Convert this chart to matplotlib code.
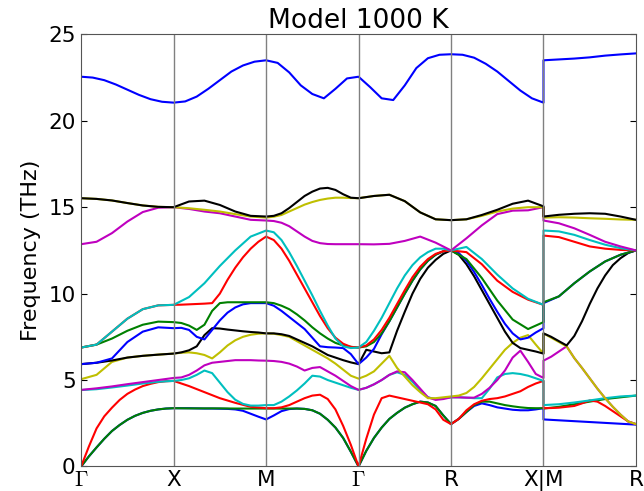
import numpy as np
import matplotlib
matplotlib.use('Agg')
import matplotlib.pyplot as plt

# Puntos de alta simetría del camino
labels = [r'$\Gamma$', 'X', 'M', r'$\Gamma$', 'R', 'X|M', 'R']

# Frecuencias (THz): una fila por banda,
# muestras equiespaciadas dentro de cada tramo (7, 9 o 13 según la curvatura)
gamma_x = [
    [0, 0.58, 1.1, 1.6, 2.05, 2.4, 2.7, 2.93, 3.1, 3.22, 3.3, 3.35, 3.37],
    [0, 0.58, 1.1, 1.6, 2.05, 2.4, 2.7, 2.93, 3.1, 3.22, 3.3, 3.35, 3.37],
    [0, 1.15, 2.2, 2.9, 3.4, 3.85, 4.2, 4.45, 4.65, 4.78, 4.88, 4.93, 4.95],
    [4.42, 4.47, 4.57, 4.68, 4.8, 4.9, 4.95],
    [4.43, 4.52, 4.63, 4.76, 4.88, 5.0, 5.12],
    [5.05, 5.3, 6.05, 6.3, 6.4, 6.47, 6.53],
    [5.92, 6.0, 6.13, 6.3, 6.4, 6.47, 6.53],
    [5.92, 6.0, 6.25, 7.2, 7.8, 8.05, 8.0],
    [6.88, 7.05, 7.4, 7.85, 8.2, 8.38, 8.35],
    [6.88, 7.05, 7.8, 8.55, 9.1, 9.32, 9.35],
    [6.88, 7.05, 7.8, 8.55, 9.1, 9.32, 9.35],
    [12.86, 13.0, 13.5, 14.17, 14.72, 14.97, 15.0],
    [15.52, 15.48, 15.39, 15.24, 15.1, 15.02, 15.0],
    [15.52, 15.48, 15.39, 15.24, 15.1, 15.02, 15.0],
    [22.55, 22.5, 22.35, 22.1, 21.8, 21.5, 21.25, 21.1, 21.05],
]
x_m = [
    [3.37, 3.37, 3.37, 3.36, 3.35, 3.35, 3.34, 3.33, 3.3, 3.22, 3.05, 2.88, 2.72],
    [3.37, 3.36, 3.36, 3.36, 3.35, 3.35, 3.35],
    [4.95, 4.65, 4.3, 3.95, 3.68, 3.45, 3.37],
    [4.95, 5.0, 5.1, 5.3, 5.55, 5.4, 4.85, 4.3, 3.86, 3.62, 3.52, 3.52, 3.55],
    [5.12, 5.15, 5.3, 5.55, 5.85, 6.0, 6.05, 6.1, 6.15, 6.15, 6.15, 6.13, 6.12],
    [6.53, 6.58, 6.6, 6.55, 6.45, 6.25, 6.6, 7.0, 7.3, 7.5, 7.62, 7.68, 7.7],
    [6.53, 6.6, 6.72, 6.95, 7.6, 8.0, 7.98, 7.92, 7.87, 7.82, 7.78, 7.75, 7.7],
    [8.0, 8.02, 7.9, 7.5, 7.35, 7.9, 8.45, 8.9, 9.2, 9.38, 9.45, 9.45, 9.45],
    [8.35, 8.3, 8.15, 7.9, 8.2, 9.0, 9.45, 9.5, 9.5, 9.5, 9.5, 9.5, 9.5],
    [9.35, 9.36, 9.38, 9.4, 9.42, 9.45, 10.0, 10.8, 11.5, 12.1, 12.6, 13.0, 13.3],
    [9.35, 9.8, 10.6, 11.6, 12.5, 13.3, 13.65],
    [15.0, 14.9, 14.75, 14.65, 14.46, 14.27, 14.23],
    [15.0, 14.94, 14.85, 14.75, 14.6, 14.46, 14.4],
    [15.0, 15.33, 15.38, 15.13, 14.75, 14.5, 14.46],
    [21.05, 21.12, 21.4, 21.85, 22.35, 22.85, 23.2, 23.42, 23.5],
]
m_gamma = [
    [2.72, 2.95, 3.2, 3.32, 3.35, 3.33, 3.25, 3.05, 2.7, 2.25, 1.65, 0.85, 0],
    [3.35, 3.35, 3.35, 3.35, 3.35, 3.33, 3.25, 3.05, 2.7, 2.25, 1.65, 0.85, 0],
    [3.37, 3.37, 3.42, 3.55, 3.75, 3.95, 4.1, 4.15, 3.9, 3.3, 2.35, 1.25, 0],
    [3.55, 3.55, 3.75, 4.05, 4.4, 4.8, 5.25, 5.2, 5.0, 4.85, 4.7, 4.55, 4.43],
    [6.12, 6.1, 6.05, 5.95, 5.78, 5.55, 5.7, 5.75, 5.5, 5.25, 4.95, 4.65, 4.43],
    [7.7, 7.68, 7.6, 7.5, 7.25, 7.0, 6.75, 6.5, 6.25, 5.95, 5.6, 5.25, 5.08],
    [7.7, 7.7, 7.65, 7.55, 7.35, 7.15, 6.95, 6.7, 6.45, 6.3, 6.15, 6.02, 5.92],
    [9.45, 9.3, 9.0, 8.65, 8.3, 7.95, 7.45, 6.95, 6.9, 6.88, 6.85, 6.5, 5.92],
    [9.5, 9.45, 9.3, 9.1, 8.8, 8.45, 8.05, 7.7, 7.4, 7.15, 7.0, 6.92, 6.88],
    [13.3, 13.1, 12.6, 11.9, 11.1, 10.3, 9.5, 8.7, 8.0, 7.45, 7.1, 6.92, 6.88],
    [13.65, 13.55, 13.1, 12.4, 11.6, 10.75, 9.9, 9.0, 8.15, 7.4, 6.95, 6.85, 6.88],
    [14.23, 14.2, 14.1, 13.9, 13.6, 13.3, 13.05, 12.92, 12.87, 12.86, 12.86, 12.86, 12.86],
    [14.4, 14.45, 14.55, 14.75, 14.95, 15.15, 15.3, 15.42, 15.5, 15.55, 15.55, 15.53, 15.52],
    [14.46, 14.5, 14.65, 14.95, 15.3, 15.65, 15.9, 16.08, 16.12, 16.0, 15.75, 15.55, 15.52],
    [23.5, 23.35, 22.8, 22.05, 21.55, 21.3, 21.85, 22.45, 22.55],
]
gamma_r = [
    [0, 0.9, 1.65, 2.25, 2.75, 3.1, 3.4, 3.6, 3.75, 3.7, 3.5, 2.95, 2.45],
    [0, 0.9, 1.65, 2.25, 2.75, 3.1, 3.4, 3.6, 3.75, 3.7, 3.5, 2.95, 2.45],
    [0, 1.6, 3.0, 3.95, 4.1, 4.0, 3.9, 3.8, 3.7, 3.6, 3.3, 2.7, 2.45],
    [4.43, 4.55, 4.75, 5.0, 5.3, 5.45, 5.3, 4.9, 4.4, 4.0, 3.9, 3.95, 4.0],
    [4.43, 4.55, 4.75, 5.0, 5.3, 5.5, 5.45, 5.0, 4.5, 4.0, 3.85, 3.9, 4.0],
    [5.08, 5.25, 5.5, 5.95, 6.4, 5.7, 5.2, 4.7, 4.3, 3.95, 3.95, 4.0, 4.05],
    [5.92, 6.75, 6.65, 6.55, 6.6, 7.85, 8.95, 10.0, 10.85, 11.5, 11.95, 12.3, 12.5],
    [5.92, 6.3, 6.8, 7.65, 8.4, 9.2, 10.0, 10.75, 11.4, 11.9, 12.25, 12.45, 12.5],
    [6.88, 6.95, 7.2, 7.7, 8.4, 9.2, 10.0, 10.75, 11.4, 11.9, 12.25, 12.45, 12.5],
    [6.88, 7.0, 7.35, 7.9, 8.6, 9.4, 10.2, 10.95, 11.55, 12.0, 12.3, 12.45, 12.5],
    [6.88, 7.2, 7.85, 8.6, 9.45, 10.3, 11.05, 11.65, 12.1, 12.4, 12.6, 12.6, 12.5],
    [12.86, 12.85, 12.88, 13.05, 13.3, 12.95, 12.5],
    [15.52, 15.65, 15.72, 15.35, 14.7, 14.3, 14.25],
    [15.52, 15.65, 15.72, 15.35, 14.7, 14.3, 14.25],
    [22.55, 21.95, 21.3, 21.2, 22.05, 23.05, 23.62, 23.82, 23.85],
]
r_x = [
    [2.45, 2.75, 3.15, 3.5, 3.65, 3.55, 3.42, 3.35, 3.28, 3.25, 3.25, 3.3, 3.37],
    [2.45, 2.75, 3.15, 3.55, 3.75, 3.75, 3.65, 3.55, 3.48, 3.42, 3.38, 3.37, 3.37],
    [2.45, 2.75, 3.25, 3.6, 3.8, 3.9, 3.95, 4.05, 4.2, 4.35, 4.6, 4.8, 4.95],
    [4.0, 4.0, 3.98, 3.95, 3.95, 4.5, 5.15, 5.35, 5.4, 5.35, 5.25, 5.1, 4.95],
    [4.0, 4.0, 3.98, 3.98, 4.2, 4.55, 5.0, 5.55, 6.3, 6.7, 6.05, 5.35, 5.12],
    [4.05, 4.1, 4.25, 4.6, 5.1, 5.65, 6.2, 6.75, 7.15, 7.45, 7.6, 7.05, 6.53],
    [12.5, 12.25, 11.7, 11.0, 10.2, 9.4, 8.6, 7.8, 7.15, 6.85, 6.75, 6.65, 6.53],
    [12.5, 12.35, 11.9, 11.25, 10.5, 9.7, 8.95, 8.25, 7.7, 7.35, 7.45, 7.75, 8.0],
    [12.5, 12.0, 10.9, 9.6, 8.5, 7.95, 8.35],
    [12.5, 12.4, 11.7, 10.75, 10.1, 9.65, 9.35],
    [12.5, 12.7, 12.0, 11.1, 10.3, 9.7, 9.35],
    [12.5, 13.2, 13.95, 14.6, 14.8, 14.82, 15.0],
    [14.25, 14.3, 14.5, 14.75, 14.92, 15.0, 15.0],
    [14.25, 14.3, 14.55, 14.85, 15.2, 15.38, 15.05],
    [23.85, 23.82, 23.65, 23.3, 22.85, 22.3, 21.75, 21.3, 21.05],
]
m_r = [
    [2.72, 2.67, 2.62, 2.57, 2.52, 2.47, 2.42],
    [3.35, 3.45, 3.6, 3.75, 3.9, 4.0, 4.1],
    [3.37, 3.38, 3.4, 3.45, 3.5, 3.65, 3.82, 3.75, 3.5, 3.2, 2.9, 2.6, 2.45],
    [3.55, 3.6, 3.7, 3.82, 3.95, 4.05, 4.1],
    [6.12, 6.35, 6.65, 6.95, 6.27, 5.7, 5.1, 4.5, 3.95, 3.45, 3.0, 2.6, 2.45],
    [7.7, 7.45, 7.2, 6.95, 6.27, 5.7, 5.1, 4.5, 3.95, 3.45, 3.0, 2.6, 2.45],
    [7.7, 7.5, 7.25, 7.0, 7.55, 8.4, 9.4, 10.3, 11.05, 11.65, 12.05, 12.35, 12.5],
    [9.45, 9.84, 10.6, 11.28, 11.86, 12.25, 12.5],
    [9.5, 9.84, 10.6, 11.28, 11.86, 12.25, 12.5],
    [13.36, 13.27, 13.0, 12.73, 12.6, 12.53, 12.5],
    [13.65, 13.6, 13.4, 13.1, 12.83, 12.63, 12.5],
    [14.23, 14.07, 13.78, 13.4, 13.0, 12.73, 12.5],
    [14.4, 14.42, 14.4, 14.36, 14.33, 14.29, 14.27],
    [14.46, 14.56, 14.62, 14.65, 14.62, 14.46, 14.27],
    [23.5, 23.55, 23.6, 23.67, 23.77, 23.84, 23.9],
]

segments = [gamma_x, x_m, m_gamma, gamma_r, r_x, m_r]
colors = ['b', 'g', 'r', 'c', 'm', 'y', 'k']

plt.rcParams['mathtext.fontset'] = 'cm'
fig = plt.figure(figsize=(6.44, 4.91), dpi=100)
ax = fig.add_axes([0.126, 0.05, 0.8615, 0.88])

# eje x: cada tramo ocupa una unidad
n_band = len(gamma_x)
for b in range(n_band):
    xs, ys = [], []
    for s, seg in enumerate(segments):
        vals = seg[b]
        xs.extend(s + np.linspace(0, 1, len(vals)))
        ys.extend(vals)
    ax.plot(xs, ys, color=colors[b % 7], lw=1.5)

for s in range(1, len(segments)):
    ax.axvline(s, color='grey', lw=1)

ax.set_xlim(0, len(segments))
ax.set_ylim(0, 25)
ax.set_xticks(range(len(labels)))
ax.set_xticklabels(labels)
ax.set_yticks(np.arange(0, 26, 5))
ax.tick_params(axis='both', direction='in', labelsize=15.5, length=4,
               right=True, top=False)
ax.tick_params(axis='x', length=0, pad=2.5)
ax.tick_params(axis='y', pad=4)
ax.set_ylabel('Frequency (THz)', fontsize=16, labelpad=5)
ax.set_title('Model 1000 K', fontsize=19, pad=3)
for sp in ax.spines.values():
    sp.set_color('#555555')

fig.savefig('out.png', dpi=100)
